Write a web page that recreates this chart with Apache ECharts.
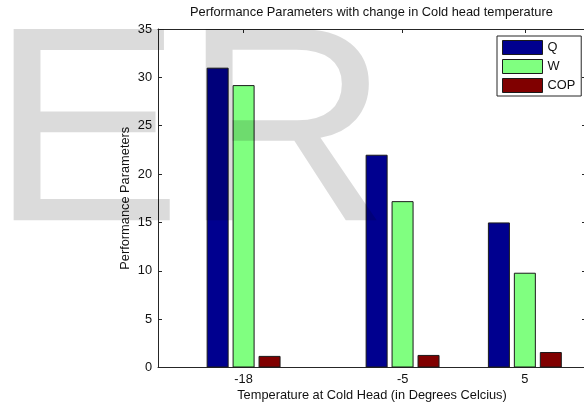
<!DOCTYPE html>
<html>
<head>
<meta charset="utf-8">
<script src="https://cdn.jsdelivr.net/npm/echarts@6/dist/echarts.min.js"></script>
<style>
  html, body { margin: 0; padding: 0; background: #fff; }
  #chart { width: 584px; height: 405px; }
</style>
</head>
<body>
<div id="chart"></div>
<script>
// cold head temperatures (x positions of the bar groups)
const temps = [-18, -5, 5];
// performance parameters
const qVals = [31.0, 22.0, 15.0];
const wVals = [29.2, 17.2, 9.8];
const copVals = [1.2, 1.3, 1.6];
const seriesNames = ['Q', 'W', 'COP'];
const seriesColors = ['#00008f', '#80ff80', '#800000'];
const yTicks = [0, 5, 10, 15, 20, 25, 30, 35];

const FONT = '"Liberation Sans", Arial, sans-serif';
const FS = 12.8;
const AXIS_COLOR = '#262626';

const chart = echarts.init(document.getElementById('chart'), null, { renderer: 'canvas' });

const pairs = (vals) => temps.map((t, i) => [t, vals[i]]);

const mkBar = (name, vals, color) => ({
  name: name,
  type: 'bar',
  data: pairs(vals),
  barWidth: 22,
  barGap: '18%',
  itemStyle: { color: color, borderColor: '#1a1a1a', borderWidth: 1 },
  emphasis: { disabled: true },
  z: 2,
});

const xCommon = {
  type: 'value',
  min: -25,
  max: 10,
  splitLine: { show: false },
  axisLine: { show: true, onZero: false, lineStyle: { color: AXIS_COLOR, width: 1 } },
  axisTick: { show: true, inside: true, length: 4, customValues: temps, lineStyle: { color: AXIS_COLOR } },
};

const yCommon = {
  type: 'value',
  min: 0,
  max: 35,
  interval: 5,
  splitLine: { show: false },
  axisLine: { show: true, onZero: false, lineStyle: { color: AXIS_COLOR, width: 1 } },
  axisTick: { show: true, inside: true, length: 4, lineStyle: { color: AXIS_COLOR } },
};

const option = {
  animation: false,
  backgroundColor: '#fff',
  textStyle: { fontFamily: FONT },
  title: {
    text: 'Performance Parameters with change in Cold head temperature',
    left: 190,
    top: 6,
    padding: 0,
    textStyle: { fontFamily: FONT, fontSize: FS, fontWeight: 'normal', color: '#111' },
  },
  legend: {
    orient: 'vertical',
    left: 497,
    top: 36,
    padding: [4, 6, 3, 5],
    itemWidth: 40,
    itemHeight: 14,
    itemGap: 4,
    icon: 'rect',
    backgroundColor: '#fff',
    borderColor: AXIS_COLOR,
    borderWidth: 1,
    borderRadius: 0,
    selectedMode: false,
    itemStyle: { borderColor: '#1a1a1a', borderWidth: 1 },
    textStyle: { fontFamily: FONT, fontSize: FS, color: '#111', padding: [0, 0, 0, 0] },
    data: seriesNames,
    z: 5,
  },
  grid: { left: 158, right: -2, top: 29, bottom: 37.5, containLabel: false, outerBoundsMode: 'none' },
  xAxis: [
    Object.assign({}, xCommon, {
      position: 'bottom',
      name: 'Temperature at Cold Head (in Degrees Celcius)',
      nameLocation: 'middle',
      nameGap: 21,
      nameMoveOverlap: false,
      nameTextStyle: { fontFamily: FONT, fontSize: FS, color: '#111' },
      axisLabel: {
        show: true,
        customValues: temps,
        margin: 5,
        fontFamily: FONT,
        fontSize: FS,
        color: '#111',
      },
    }),
    Object.assign({}, xCommon, {
      position: 'top',
      axisLabel: { show: false },
    }),
  ],
  yAxis: [
    Object.assign({}, yCommon, {
      position: 'left',
      name: 'Performance Parameters',
      nameLocation: 'middle',
      nameGap: 26,
      nameMoveOverlap: false,
      nameRotate: 90,
      nameTextStyle: { fontFamily: FONT, fontSize: FS, color: '#111' },
      axisLabel: {
        show: true,
        margin: 6,
        fontFamily: FONT,
        fontSize: FS,
        color: '#111',
        customValues: yTicks,
      },
    }),
    Object.assign({}, yCommon, {
      position: 'right',
      axisLabel: { show: false },
    }),
  ],
  series: [
    mkBar(seriesNames[0], qVals, seriesColors[0]),
    mkBar(seriesNames[1], wVals, seriesColors[1]),
    mkBar(seriesNames[2], copVals, seriesColors[2]),
  ],
  // big translucent watermark letters laid over the whole picture
  graphic: [
    {
      type: 'text',
      silent: true,
      z: 100,
      x: -10,
      y: 143.5,
      scaleY: 0.965,
      style: {
        text: 'ER',
        font: '288px "Liberation Sans", Arial, sans-serif',
        fill: 'rgba(0,0,0,0.14)',
        textAlign: 'left',
        textVerticalAlign: 'middle',
      },
    },
  ],
};

chart.setOption(option);
</script>
</body>
</html>
